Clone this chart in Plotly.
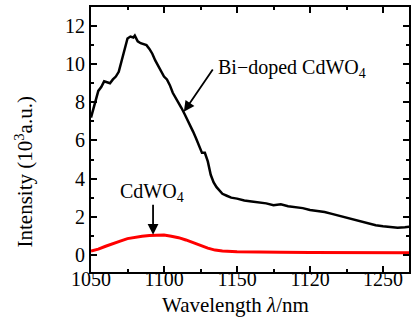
import plotly.graph_objects as go

# Bi-doped CdWO4 spectrum (wavelength nm, intensity 10^3 a.u.)
bi_wl = [1050, 1051, 1053, 1055, 1057, 1059, 1061, 1063, 1065, 1067, 1069, 1071, 1073, 1075,
         1077, 1079, 1080, 1082, 1084, 1086, 1088, 1090, 1092, 1094, 1096, 1098, 1100, 1102,
         1104, 1106, 1108, 1110, 1112, 1114, 1116, 1118, 1120, 1122, 1124, 1126, 1128, 1130,
         1132, 1134, 1136, 1138, 1140, 1143, 1146, 1150, 1155, 1160, 1165, 1170, 1175, 1180,
         1185, 1190, 1195, 1200, 1205, 1210, 1215, 1220, 1225, 1230, 1235, 1240, 1245, 1250,
         1255, 1260, 1265, 1268]
bi_int = [7.2, 7.5, 8.0, 8.6, 8.8, 9.1, 9.05, 9.0, 9.2, 9.35, 9.6, 10.2, 10.9, 11.35,
          11.45, 11.4, 11.5, 11.2, 11.1, 11.05, 11.0, 10.8, 10.55, 10.2, 9.9, 9.6, 9.35, 9.2,
          8.9, 8.5, 8.25, 7.95, 7.7, 7.4, 7.1, 6.8, 6.45, 6.1, 5.7, 5.35, 5.35, 4.9,
          4.2, 3.8, 3.55, 3.35, 3.2, 3.1, 3.0, 2.95, 2.85, 2.8, 2.75, 2.7, 2.6, 2.65,
          2.55, 2.5, 2.45, 2.35, 2.3, 2.25, 2.15, 2.05, 1.95, 1.85, 1.75, 1.65, 1.55, 1.5,
          1.45, 1.42, 1.45, 1.48]

# Undoped CdWO4 spectrum
cd_wl = [1050, 1055, 1060, 1065, 1070, 1075, 1080, 1085, 1090, 1095, 1100, 1105, 1110, 1115,
         1120, 1125, 1130, 1135, 1140, 1150, 1160, 1180, 1200, 1220, 1240, 1268]
cd_int = [0.2, 0.3, 0.45, 0.6, 0.72, 0.85, 0.93, 0.98, 1.02, 1.04, 1.04, 0.98, 0.9, 0.78,
          0.63, 0.48, 0.35, 0.25, 0.2, 0.16, 0.14, 0.13, 0.12, 0.11, 0.11, 0.11]

x_tickvals = [1050, 1100, 1150, 1200, 1250]
x_ticktext = ["1050", "1100", "1150", "1120", "1250"]
y_tickvals = [0, 2, 4, 6, 8, 10, 12]
y_ticktext = ["0", "2", "4", "6", "8", "10", "12"]

FONT = "Liberation Serif"

fig = go.Figure()
fig.add_trace(go.Scatter(x=bi_wl, y=bi_int, mode="lines",
                         line=dict(color="black", width=2.5), showlegend=False))
fig.add_trace(go.Scatter(x=cd_wl, y=cd_int, mode="lines",
                         line=dict(color="#ff0000", width=3), showlegend=False))

axis_common = dict(showline=True, linecolor="black", linewidth=2, mirror="allticks",
                   ticks="inside", ticklen=6, tickwidth=1.5, tickcolor="black",
                   showgrid=False, zeroline=False,
                   tickfont=dict(family=FONT, size=20, color="black"))

fig.update_xaxes(range=[1050, 1267.8], tickvals=x_tickvals, ticktext=x_ticktext,
                 ticklabelstandoff=-12,
                 minor=dict(dtick=25, tick0=1050, ticks="inside", ticklen=3, tickwidth=1.5,
                            tickcolor="black"),
                 **axis_common)
fig.update_yaxes(range=[-0.9, 13.0], tickvals=y_tickvals, ticktext=y_ticktext,
                 minor=dict(dtick=1, tick0=0, ticks="inside", ticklen=3, tickwidth=1.5,
                            tickcolor="black"),
                 **axis_common)

annotations = [
    # axis titles
    dict(text="Wavelength <i>λ</i>/nm", xref="paper", yref="paper", x=0.5, y=0,
         xanchor="center", yanchor="middle", xshift=-15, yshift=-33, showarrow=False,
         font=dict(family=FONT, size=21, color="black")),
    dict(text="Intensity (10<sup>3</sup>a.u.)", xref="paper", yref="paper", x=0, y=0.5,
         xanchor="center", yanchor="middle", xshift=-67, yshift=-33, textangle=-90,
         showarrow=False, font=dict(family=FONT, size=21, color="black")),
    # labels
    dict(text="Bi−doped CdWO<sub>4</sub>", x=1135.5, y=9.75, xref="x", yref="y",
         xanchor="left", yanchor="middle", showarrow=False,
         font=dict(family=FONT, size=20, color="black")),
    dict(text="", x=1113.6, y=7.5, ax=1134.1, ay=9.8, xref="x", yref="y",
         axref="x", ayref="y", showarrow=True, arrowhead=2, arrowsize=1.2,
         arrowwidth=1.8, arrowcolor="black"),
    dict(text="CdWO<sub>4</sub>", x=1091.8, y=3.25, xref="x", yref="y",
         xanchor="center", yanchor="middle", showarrow=False,
         font=dict(family=FONT, size=20, color="black")),
    dict(text="", x=1092.5, y=1.05, ax=1092.5, ay=2.71, xref="x", yref="y",
         axref="x", ayref="y", showarrow=True, arrowhead=2, arrowsize=1.2,
         arrowwidth=1.8, arrowcolor="black"),
]

fig.update_layout(width=411, height=320, margin=dict(l=91, r=0, t=7, b=48),
                  paper_bgcolor="white", plot_bgcolor="white",
                  annotations=annotations, font=dict(family=FONT, color="black"))

fig.write_html("out.html")
